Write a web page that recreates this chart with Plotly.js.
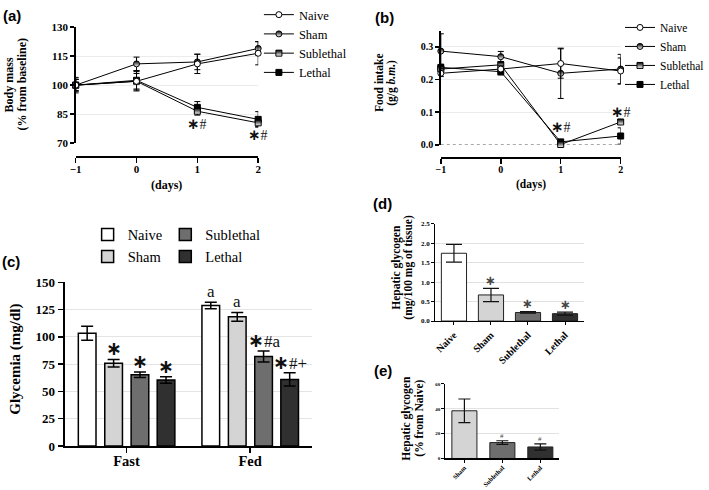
<!DOCTYPE html>
<html>
<head>
<meta charset="utf-8">
<script src="https://cdn.plot.ly/plotly-3.0.1.min.js"></script>
<style>html,body{margin:0;padding:0;background:#fff;}#chart{width:709px;height:490px;}</style>
</head>
<body>
<div id="chart"></div>
<script>
// ---------- DATA ----------
const groupNames = ['Naive', 'Sham', 'Sublethal', 'Lethal'];
const days = [-1, 0, 1, 2];
const dayTicks = ['\u22121', '0', '1', '2'];

// (a) Body mass (% from baseline)
const massNaive = [100, 102, 111, 116.5];
const massNaiveErr = [4, 5, 5, 6];
const massSham = [100, 111, 112, 119];
const massShamErr = [3, 3.5, 4, 3.5];
const massSublethal = [100, 102, 86.5, 80.5];
const massSublethalErr = [3, 4, 2, 2];
const massLethal = [100, 102.5, 88.5, 82.3];
const massLethalErr = [3, 5, 3, 4];
const massSigDays = [1, 2];
const massSigY = [80, 74];
const massSigText = ['*#', '*#'];

// (b) Food intake (g/g b.m.)
const foodNaive = [0.219, 0.232, 0.249, 0.226];
const foodNaiveErr = [0.01, 0.01, 0.045, 0.04];
const foodSham = [0.287, 0.270, 0.219, 0.232];
const foodShamErr = [0.053, 0.016, 0.077, 0.045];
const foodSublethal = [0.232, 0.245, 0.001, 0.070];
const foodSublethalErr = [0.01, 0.01, 0.003, 0.008];
const foodLethal = [0.237, 0.224, 0.009, 0.027];
const foodLethalErr = [0.01, 0.01, 0.004, 0.025];
const foodSigDays = [1, 2];
const foodSigY = [0.054, 0.1];
const foodSigText = ['*#', '*#'];

// (c) Glycemia (mg/dl)
const glyCategories = ['Fast', 'Fed'];
const glyNaive = [103.3, 128.8];
const glyNaiveErr = [6.5, 3];
const glySham = [75.8, 118.4];
const glyShamErr = [3.5, 4];
const glySublethal = [65.3, 82];
const glySublethalErr = [2.5, 5];
const glyLethal = [60.5, 61];
const glyLethalErr = [3, 6];
const glyNaiveSig = ['', 'a'];
const glyShamSig = ['*', 'a'];
const glySublethalSig = ['*', '*#a'];
const glyLethalSig = ['*', '*#+'];

// (d) Hepatic glycogen (mg/100 mg of tissue)
const hgCategories = ['Naive', 'Sham', 'Sublethal', 'Lethal'];
const hgValues = [1.74, 0.67, 0.22, 0.19];
const hgErr = [0.23, 0.17, 0.02, 0.04];
const hgSig = ['', '*', '*', '*'];

// (e) Hepatic glycogen (% from Naive)
const hpCategories = ['Sham', 'Sublethal', 'Lethal'];
const hpValues = [38.4, 12.8, 9.3];
const hpErr = [9.5, 1.5, 2.5];
const hpSig = ['', '#', '#'];

// ---------- STYLE ----------
const W = 709, H = 490;
const px = x => x / W;
const py = y => 1 - y / H;
const SERIF = 'Liberation Serif, Times New Roman, serif';
const SANS = 'Liberation Sans, Arial, sans-serif';
const barColors = ['#ffffff', '#d4d4d4', '#6e6e6e', '#303030'];

// render '*' as a centred asterisk glyph
function sig(text, starSize) {
  return text.split('').map(ch => ch === '*'
    ? '<span style="font-family:DejaVu Sans;font-weight:bold;font-size:' + starSize + 'px">\u2217</span>'
    : ch).join('');
}

const lineStyles = [
  {symbol: 'circle', color: '#ffffff', line: {color: '#000', width: 1}},
  {symbol: 'circle', color: '#000', gradient: {type: 'vertical', color: '#ffffff'}, line: {color: '#000', width: 1}},
  {symbol: 'square', color: '#000', gradient: {type: 'vertical', color: '#ffffff'}, line: {color: '#000', width: 1}},
  {symbol: 'square', color: '#000', line: {color: '#000', width: 1}}
];

function lineTrace(name, y, err, i, xa, ya, lg) {
  return {
    type: 'scatter', mode: 'lines+markers', name: name,
    x: days, y: y, xaxis: xa, yaxis: ya, legend: lg,
    cliponaxis: false,
    line: {color: '#000', width: 1},
    marker: Object.assign({size: 6}, lineStyles[i]),
    error_y: {type: 'data', array: err, visible: true, color: '#000', thickness: 1, width: 3},
    hoverinfo: 'skip'
  };
}

const traces = [];
const massSeries = [massNaive, massSham, massSublethal, massLethal];
const massErrs = [massNaiveErr, massShamErr, massSublethalErr, massLethalErr];
const foodSeries = [foodNaive, foodSham, foodSublethal, foodLethal];
const foodErrs = [foodNaiveErr, foodShamErr, foodSublethalErr, foodLethalErr];
[3, 2, 1, 0].forEach(i => traces.push(lineTrace(groupNames[i], massSeries[i], massErrs[i], i, 'x', 'y', 'legend')));
[3, 2, 1, 0].forEach(i => traces.push(lineTrace(groupNames[i], foodSeries[i], foodErrs[i], i, 'x2', 'y2', 'legend2')));
traces.forEach(t => { t.legendrank = groupNames.indexOf(t.name) + 1; });

// (c) grouped bars
const glySeries = [glyNaive, glySham, glySublethal, glyLethal];
const glyErrs = [glyNaiveErr, glyShamErr, glySublethalErr, glyLethalErr];
const glySigs = [glyNaiveSig, glyShamSig, glySublethalSig, glyLethalSig];
const glyOffsets = [-0.39, -0.176, 0.037, 0.248];
const glyWidth = 0.143;
const glyX = glyCategories.map((c, k) => k);
glySeries.forEach((vals, i) => {
  traces.push({
    type: 'bar', name: groupNames[i], x: glyX, y: vals,
    xaxis: 'x3', yaxis: 'y3',
    legend: i < 2 ? 'legend3' : 'legend4', legendrank: i + 1,
    offset: glyOffsets[i], width: glyWidth,
    marker: {color: barColors[i], line: {color: '#000', width: 1.5}},
    error_y: {type: 'data', array: glyErrs[i], visible: true, color: '#000', thickness: 1.5, width: 6},
    hoverinfo: 'skip'
  });
});

// (d)
traces.push({
  type: 'bar', x: hgCategories.map((c, k) => k), y: hgValues, xaxis: 'x4', yaxis: 'y4', showlegend: false,
  width: 0.68,
  marker: {color: hgCategories.map(c => barColors[groupNames.indexOf(c)]), line: {color: '#222', width: 1}},
  error_y: {type: 'data', array: hgErr, visible: true, color: '#111', thickness: 1.2, width: 8},
  hoverinfo: 'skip'
});
// (e)
traces.push({
  type: 'bar', x: hpCategories.map((c, k) => k), y: hpValues, xaxis: 'x5', yaxis: 'y5', showlegend: false,
  width: 0.66,
  marker: {color: hpCategories.map(c => barColors[groupNames.indexOf(c)]), line: {color: '#222', width: 1}},
  error_y: {type: 'data', array: hpErr, visible: true, color: '#111', thickness: 1.2, width: 6},
  hoverinfo: 'skip'
});

// ---------- AXES ----------
function tf(size) { return {family: SERIF, size: size, color: '#000', weight: 'bold'}; }
const gridC = '#ececec';

const layout = {
  width: W, height: H,
  margin: {l: 0, r: 0, t: 0, b: 0},
  paper_bgcolor: '#fff', plot_bgcolor: 'rgba(0,0,0,0)',
  barmode: 'overlay',
  showlegend: true,
  hovermode: false,
  xaxis: {domain: [px(76), px(259.3)], range: [-1, 2], anchor: 'free', position: py(154.3),
    tickvals: days, ticktext: dayTicks, showline: true, linecolor: '#000', linewidth: 1.5,
    ticks: 'outside', ticklen: 5, tickwidth: 1.5, tickcolor: '#000', tickfont: tf(11), ticklabelstandoff: -3,
    showgrid: false, zeroline: false, fixedrange: true},
  yaxis: {domain: [py(141), py(24.3)], range: [70, 130], anchor: 'x',
    tickvals: [70, 85, 100, 115, 130], showline: true, linecolor: '#000', linewidth: 1.5,
    ticks: 'outside', ticklen: 4, tickwidth: 1.5, tickcolor: '#000', tickfont: tf(11),
    showgrid: true, gridcolor: gridC, zeroline: false, fixedrange: true},
  xaxis2: {domain: [px(442.7), px(623.3)], range: [-1, 2], anchor: 'free', position: py(155),
    tickvals: days, ticktext: dayTicks, showline: true, linecolor: '#000', linewidth: 1.5,
    ticks: 'outside', ticklen: 5, tickwidth: 1.5, tickcolor: '#000', tickfont: tf(10), ticklabelstandoff: -3,
    showgrid: false, zeroline: false, fixedrange: true},
  yaxis2: {domain: [py(142.7), py(27.7)], range: [0, 0.35], anchor: 'x2',
    tickvals: [0, 0.1, 0.2, 0.3], tickformat: '.1f', showline: true, linecolor: '#000', linewidth: 1.5,
    ticks: 'outside', ticklen: 4, tickwidth: 1.5, tickcolor: '#000', tickfont: tf(10),
    showgrid: true, gridcolor: gridC, zeroline: false, fixedrange: true},
  xaxis3: {domain: [px(65), px(313.3)], range: [-0.5, 1.5], anchor: 'y3',
    tickvals: glyX, ticktext: glyCategories, showline: true, linecolor: '#000', linewidth: 2,
    ticks: 'outside', ticklen: 5, tickwidth: 1.5, tickcolor: '#000', tickfont: tf(14.5), ticklabelstandoff: -4,
    showgrid: false, zeroline: false, fixedrange: true},
  yaxis3: {domain: [py(445.7), py(281)], range: [0, 150], anchor: 'x3',
    tickvals: [0, 25, 50, 75, 100, 125, 150], showline: true, linecolor: '#000', linewidth: 2,
    ticks: 'outside', ticklen: 5, tickwidth: 1.5, tickcolor: '#000', tickfont: tf(13),
    showgrid: true, gridcolor: '#e4e4e4', gridwidth: 1.2, zeroline: false, fixedrange: true},
  xaxis4: {domain: [px(437.3), px(586)], range: [-0.5, 3.5], anchor: 'y4',
    tickvals: hgCategories.map((c, k) => k), ticktext: hgCategories, tickangle: -45,
    showline: true, linecolor: '#000', linewidth: 1.2,
    ticks: 'outside', ticklen: 3, tickwidth: 1, tickcolor: '#000', tickfont: tf(10),
    showgrid: false, zeroline: false, fixedrange: true},
  yaxis4: {domain: [py(320), py(222)], range: [0, 2.5], anchor: 'x4',
    tickvals: [0, 0.5, 1, 1.5, 2, 2.5], tickformat: '.1f', showline: true, linecolor: '#000', linewidth: 1.2,
    ticks: 'outside', ticklen: 3, tickwidth: 1, tickcolor: '#000', tickfont: tf(7),
    showgrid: true, gridcolor: '#e2e2e2', zeroline: false, fixedrange: true},
  xaxis5: {domain: [px(447.3), px(561.7)], range: [-0.5, 2.5], anchor: 'y5',
    tickvals: hpCategories.map((c, k) => k), ticktext: hpCategories, tickangle: -45,
    showline: true, linecolor: '#000', linewidth: 1.2,
    ticks: 'outside', ticklen: 3, tickwidth: 1, tickcolor: '#000', tickfont: tf(6.5), ticklabelstandoff: -1,
    showgrid: false, zeroline: false, fixedrange: true},
  yaxis5: {domain: [py(458.3), py(383.3)], range: [0, 60], anchor: 'x5',
    tickvals: [0, 20, 40, 60], showline: true, linecolor: '#000', linewidth: 1.2,
    ticks: 'outside', ticklen: 3, tickwidth: 1, tickcolor: '#000', tickfont: tf(5),
    showgrid: true, gridcolor: '#e2e2e2', zeroline: false, fixedrange: true},
  legend: {x: px(260), y: py(-3), xanchor: 'left', yanchor: 'top', bgcolor: 'rgba(0,0,0,0)',
    font: {family: SERIF, size: 12.5, color: '#000'}, tracegroupgap: 0, itemwidth: 30, traceorder: 'normal'},
  legend2: {x: px(623), y: py(10), xanchor: 'left', yanchor: 'top', bgcolor: 'rgba(0,0,0,0)',
    font: {family: SERIF, size: 11.5, color: '#000'}, tracegroupgap: 0, itemwidth: 30, traceorder: 'normal'},
  legend3: {x: px(88), y: py(217), xanchor: 'left', yanchor: 'top', bgcolor: 'rgba(0,0,0,0)',
    font: {family: SERIF, size: 14.5, color: '#000'}, tracegroupgap: 0, itemwidth: 30, traceorder: 'normal'},
  legend4: {x: px(166), y: py(217), xanchor: 'left', yanchor: 'top', bgcolor: 'rgba(0,0,0,0)',
    font: {family: SERIF, size: 14.5, color: '#000'}, tracegroupgap: 0, itemwidth: 30, traceorder: 'normal'},
  shapes: [
    {type: 'line', xref: 'x2 domain', yref: 'y2', x0: 0, x1: 1, y0: 0, y1: 0,
      line: {color: '#555', width: 1, dash: 'dot'}, layer: 'below'}
  ],
  annotations: []
};

const ann = layout.annotations;
function addText(text, x, y, font, extra) {
  ann.push(Object.assign({text: text, x: x, y: y, xref: 'paper', yref: 'paper', showarrow: false,
    xanchor: 'center', yanchor: 'middle', font: font}, extra || {}));
}
const panelFont = {family: SANS, size: 15, color: '#000', weight: 'bold'};
addText('(a)', px(12), py(13), panelFont);
addText('(b)', px(386), py(15), panelFont);
addText('(c)', px(11), py(260), panelFont);
addText('(d)', px(384), py(202), panelFont);
addText('(e)', px(385), py(370), panelFont);

// axis titles
const ytf = s => ({family: SERIF, size: s, color: '#000', weight: 'bold'});
addText('Body mass', px(10), py(82), ytf(12), {textangle: -90});
addText('(% from baseline)', px(23), py(82), ytf(12), {textangle: -90});
addText('(days)', px(167), py(183), ytf(12));
addText('Food intake', px(380), py(80), ytf(11.5), {textangle: -90});
addText('(g/g <i>b.m.</i>)', px(393), py(80), ytf(11.5), {textangle: -90});
addText('(days)', px(533), py(183), ytf(11.5));
addText('Glycemia (mg/dl)', px(16), py(358), ytf(15), {textangle: -90});
addText('Hepatic glycogen', px(398), py(266), ytf(11.5), {textangle: -90});
addText('(mg/100 mg of tissue)', px(410), py(266), ytf(11.5), {textangle: -90});
addText('Hepatic glycogen', px(408), py(418), ytf(11.5), {textangle: -90});
addText('(% from Naive)', px(421), py(418), ytf(11.5), {textangle: -90});

// significance marks
const sigFont = s => ({family: SERIF, size: s, color: '#111'});
massSigDays.forEach((d, k) => ann.push({text: sig(massSigText[k], 15), x: d, y: massSigY[k], xref: 'x', yref: 'y',
  showarrow: false, font: sigFont(14), xanchor: 'center', yanchor: 'middle'}));
foodSigDays.forEach((d, k) => ann.push({text: sig(foodSigText[k], 15), x: d, y: foodSigY[k], xref: 'x2', yref: 'y2',
  showarrow: false, font: sigFont(14), xanchor: 'center', yanchor: 'middle'}));
glySeries.forEach((vals, i) => {
  vals.forEach((v, k) => {
    const t = glySigs[i][k];
    if (!t) return;
    ann.push({text: sig(t, 19), x: k + glyOffsets[i] + glyWidth / 2, y: v + glyErrs[i][k], xref: 'x3', yref: 'y3',
      showarrow: false, font: sigFont(17), xanchor: 'center', yanchor: 'middle', yshift: 11});
  });
});
hgValues.forEach((v, k) => {
  if (!hgSig[k]) return;
  ann.push({text: sig(hgSig[k], 13), x: k, y: v + hgErr[k], xref: 'x4', yref: 'y4', showarrow: false,
    font: {family: SERIF, size: 12, color: '#444'}, xanchor: 'center', yanchor: 'middle', yshift: 8});
});
hpValues.forEach((v, k) => {
  if (!hpSig[k]) return;
  ann.push({text: hpSig[k], x: k, y: v + hpErr[k], xref: 'x5', yref: 'y5', showarrow: false,
    font: {family: SERIF, size: 7, color: '#444'}, xanchor: 'center', yanchor: 'middle', yshift: 5});
});

Plotly.newPlot('chart', traces, layout, {displayModeBar: false, staticPlot: true});
</script>
</body>
</html>
